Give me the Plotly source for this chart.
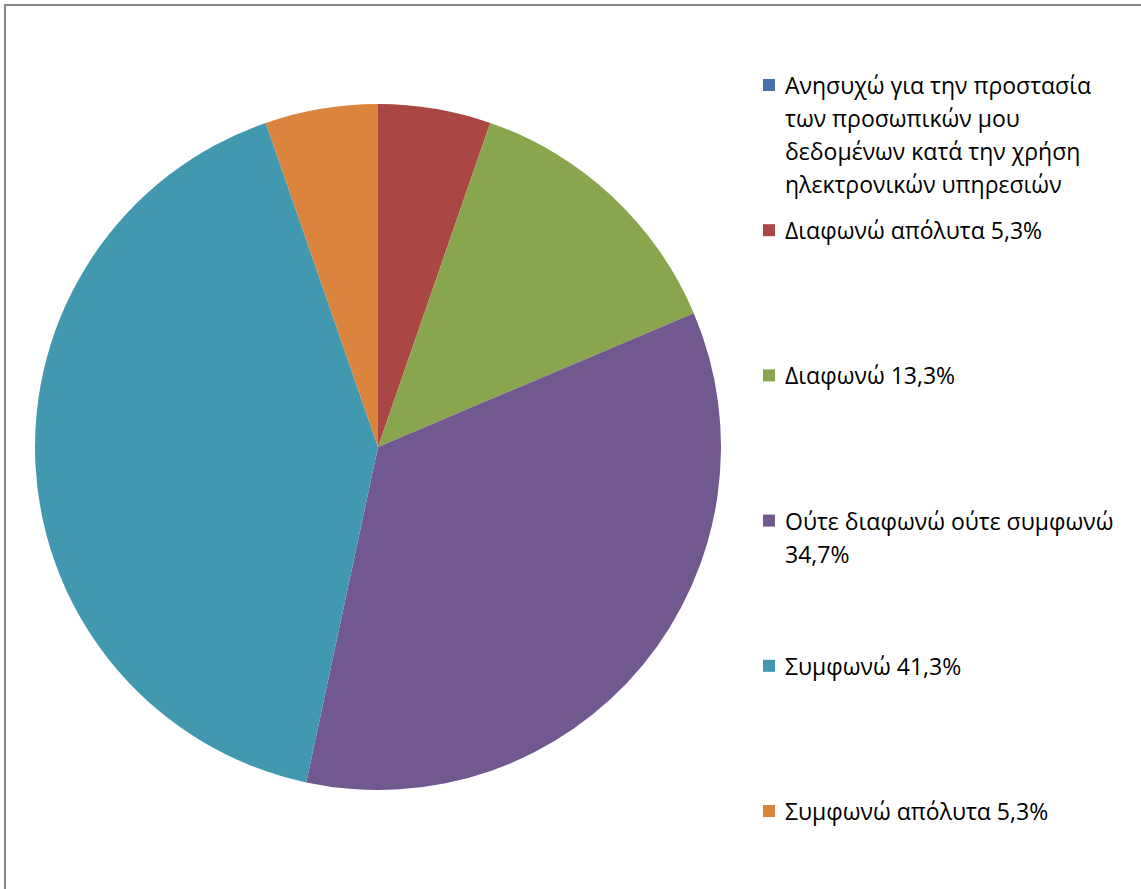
import textwrap
import plotly.graph_objects as go

W, H = 1141, 889

series_name = ("Ανησυχώ για την προστασία των προσωπικών μου "
               "δεδομένων κατά την χρήση ηλεκτρονικών υπηρεσιών")
categories = ["Διαφωνώ απόλυτα", "Διαφωνώ", "Ούτε διαφωνώ ούτε συμφωνώ",
              "Συμφωνώ", "Συμφωνώ απόλυτα"]
percentages = [5.3, 13.3, 34.7, 41.3, 5.3]

series_color = "#4572A7"
slice_colors = ["#AA4643", "#89A54E", "#71588F", "#4198AF", "#DB843D"]

FONT = "Open Sans"
TEXT_COLOR = "#000000"


def px_x(x):
    return x / W


def px_y(y):
    return 1 - y / H


fig = go.Figure(
    go.Pie(
        labels=categories,
        values=percentages,
        marker=dict(colors=slice_colors, line=dict(width=0)),
        sort=False,
        direction="clockwise",
        rotation=0,
        textinfo="none",
        hoverinfo="label+percent",
        showlegend=False,
        domain=dict(x=[px_x(35), px_x(721)], y=[px_y(790), px_y(104)]),
    )
)

# Legend: series title first, then each category with its percentage
legend_texts = [series_name] + [
    f"{c} {str(p).replace('.', ',')}%" for c, p in zip(categories, percentages)
]
legend_colors = [series_color] + slice_colors

first_y, step, line_gap = 85, 145.2, 33
sq = 12
shapes = []
annotations = []
for i, (txt, col) in enumerate(zip(legend_texts, legend_colors)):
    y0 = first_y + i * step
    shapes.append(dict(
        type="rect", xref="paper", yref="paper",
        x0=px_x(763), x1=px_x(763 + sq),
        y0=px_y(y0 - sq / 2), y1=px_y(y0 + sq / 2),
        fillcolor=col, line=dict(width=0),
    ))
    for j, line in enumerate(textwrap.wrap(txt, 25)):
        annotations.append(dict(
            xref="paper", yref="paper", x=px_x(783), y=px_y(y0 + j * line_gap),
            xanchor="left", yanchor="middle", showarrow=False, text=line,
            font=dict(family=FONT, size=23, color=TEXT_COLOR),
        ))

# Chart-area frame
shapes.append(dict(
    type="rect", xref="paper", yref="paper",
    x0=px_x(5), x1=1.05, y0=-0.05, y1=px_y(5),
    line=dict(color="#878787", width=2), fillcolor="rgba(0,0,0,0)",
))

fig.update_layout(
    width=W, height=H,
    margin=dict(l=0, r=0, t=0, b=0),
    paper_bgcolor="white", plot_bgcolor="white",
    shapes=shapes, annotations=annotations,
    font=dict(family=FONT),
)

fig.write_html("out.html")
